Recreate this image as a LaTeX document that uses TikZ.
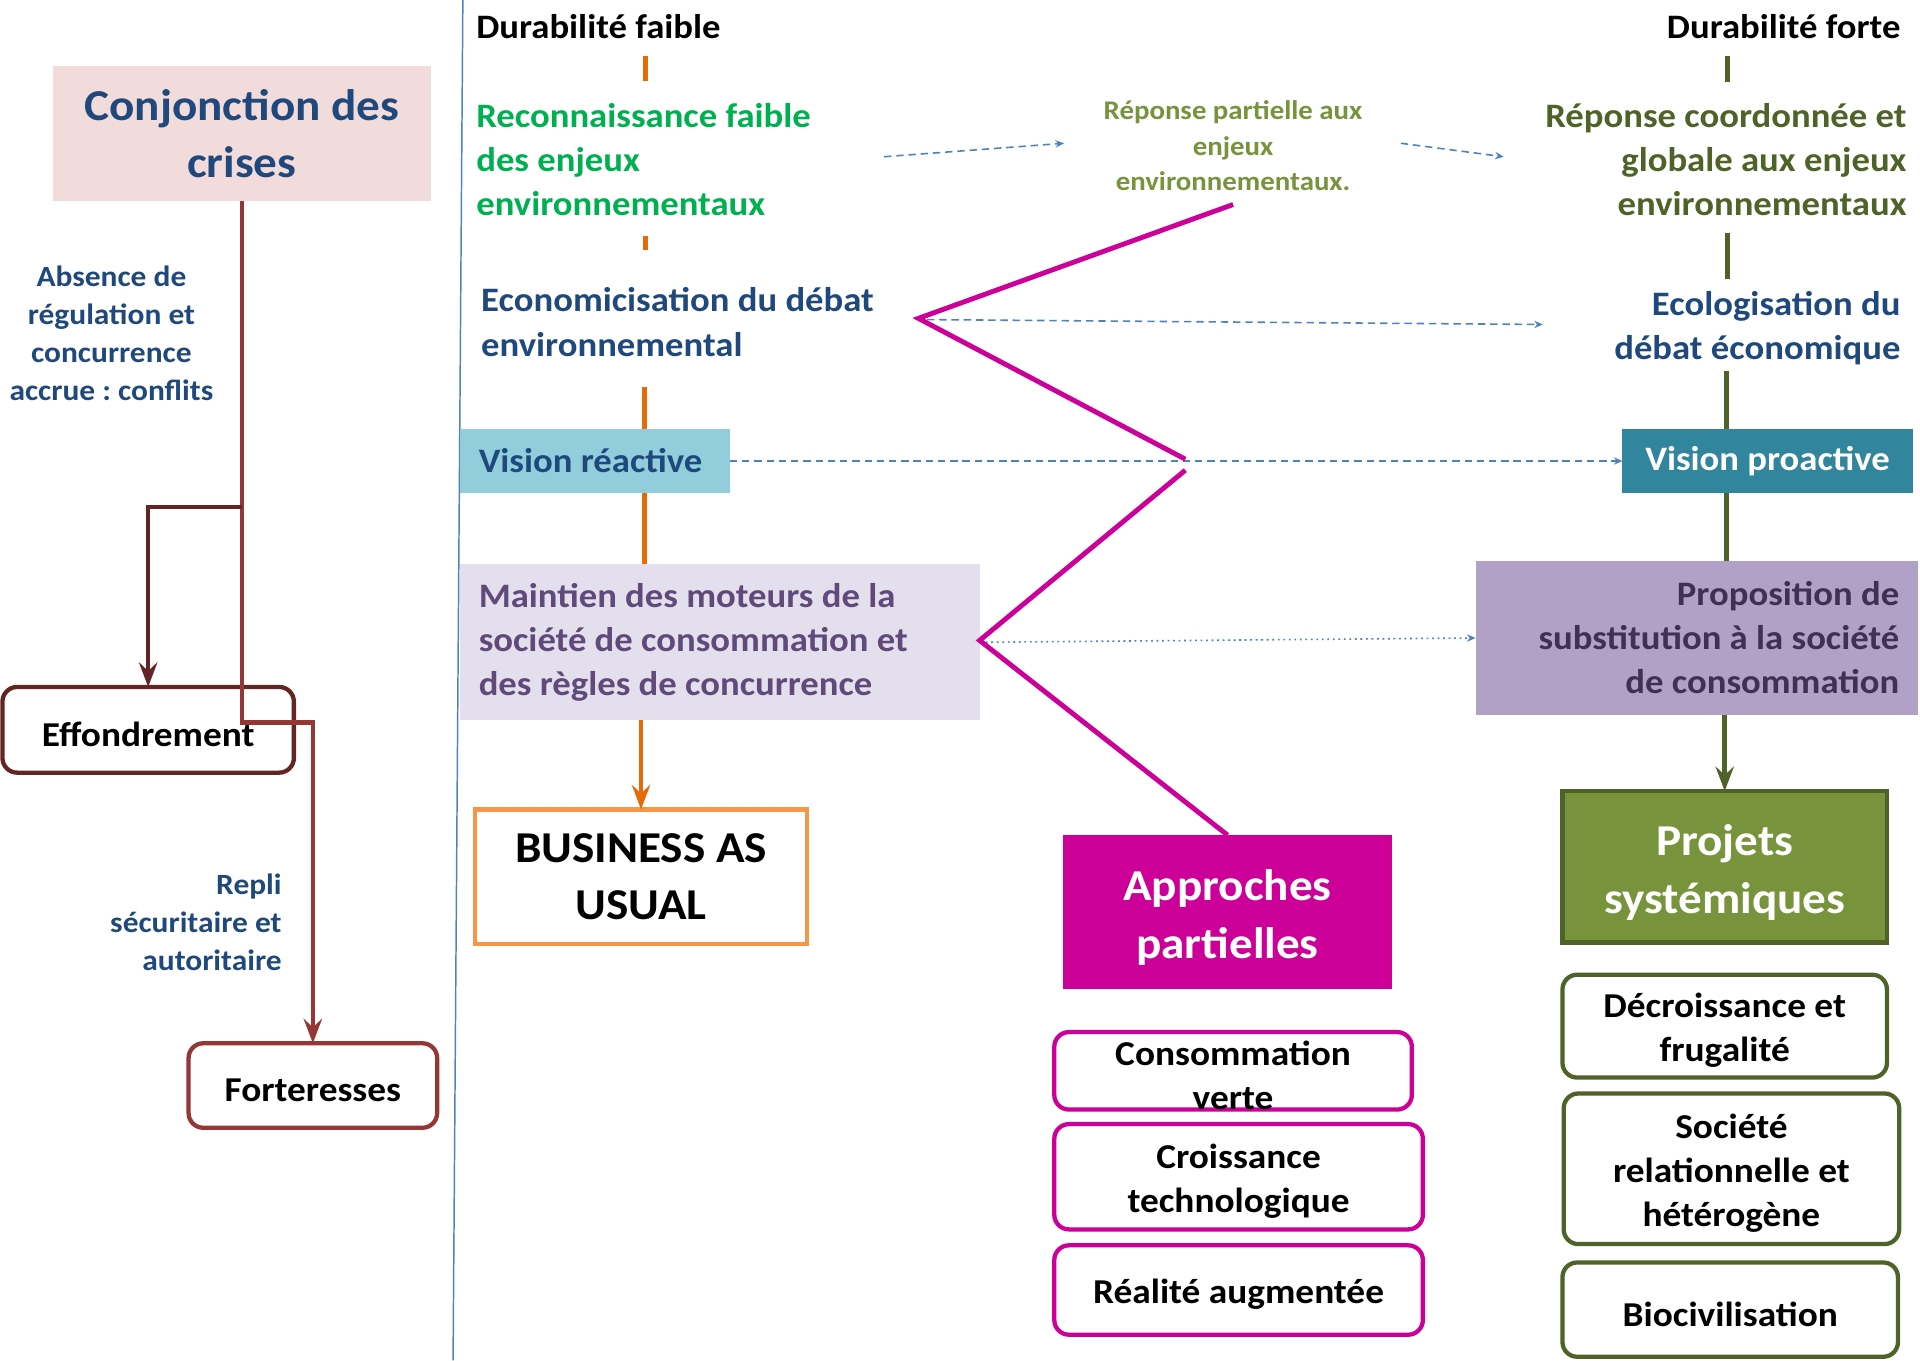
\documentclass[tikz,border=0pt]{standalone}
\usepackage{fontspec}
\setmainfont{Carlito}[FakeStretch=1.07]
\usetikzlibrary{arrows.meta}

\definecolor{darkblue}{HTML}{1F497D}
\definecolor{crisispink}{HTML}{F2DCDB}
\definecolor{crisisred}{HTML}{953735}
\definecolor{branchred}{HTML}{632523}
\definecolor{axisorange}{HTML}{E36C09}
\definecolor{bauorange}{HTML}{F79646}
\definecolor{recogreen}{HTML}{00B050}
\definecolor{olive}{HTML}{77933C}
\definecolor{darkolive}{HTML}{4F6228}
\definecolor{reactblue}{HTML}{92CDDC}
\definecolor{proteal}{HTML}{31859C}
\definecolor{lavender}{HTML}{E4DFEC}
\definecolor{maintext}{HTML}{604A7B}
\definecolor{lilac}{HTML}{B2A1C7}
\definecolor{proptext}{HTML}{3F3151}
\definecolor{partmagenta}{HTML}{CC0099}
\definecolor{linkblue}{HTML}{4F81BD}

\newcommand{\fsz}[2]{\fontsize{#1}{#2}\selectfont}

\begin{document}
\frenchspacing
\begin{tikzpicture}[x=1pt, y=-1pt,
    every node/.style={inner sep=0pt, outer sep=0pt},
    headtext/.style={font=\bfseries\fsz{28}{32}},
    midtext/.style={font=\bfseries\fsz{28}{36}},
    visiontext/.style={font=\bfseries\fsz{28}{34}},
    itemtext/.style={font=\bfseries\fsz{28.5}{36}},
    sidetext/.style={font=\bfseries\fsz{24}{31}, text=darkblue},
    bigtext/.style={font=\bfseries\fsz{36}{47}},
    lowered/.style={execute at begin node={\rule{0pt}{0.95em}}},
    itembox/.style={itemtext, lowered, draw, line width=3.5pt, rounded corners=12pt, fill=white, align=flush center},
    crisisline/.style={draw=crisisred, line width=3.5pt},
    branchline/.style={draw=branchred, line width=3.5pt},
    bigtip/.style={-{Stealth[length=20pt, width=15pt, inset=7pt]}},
    orangeaxis/.style={draw=axisorange, line width=4pt},
    greenaxis/.style={draw=darkolive, line width=4pt},
    link/.style={draw=linkblue, line width=1.3pt, dash pattern=on 6pt off 4pt, -{Stealth[length=7pt, width=6pt]}},
    dottedlink/.style={draw=linkblue, line width=1.3pt, dash pattern=on 1.5pt off 3pt, -{Stealth[length=7pt, width=6pt]}},
    zigzag/.style={draw=partmagenta, line width=4pt}
  ]
    \useasboundingbox (0,0) rectangle (1568,1111);

    \coordinate (septop) at (378,0);
    \coordinate (sepbot) at (370,1111);
    \draw[draw=linkblue, line width=1.2pt] (septop) -- (sepbot);

    \node[bigtext, fill=crisispink, text=darkblue, minimum width=309, minimum height=110,
      text width=290pt, align=flush center] (conj) at (197.5,109) {Conjonction des\\crises};
    \node[sidetext, text width=190pt, align=flush center] (absence) at (91,272)
      {Absence de\\régulation et\\concurrence\\accrue : conflits};
    \node[itembox, draw=branchred, minimum width=238, minimum height=70, text width=220pt]
      (effond) at (121,596) {Effondrement};
    \node[sidetext, anchor=east, text width=170pt, align=flush right] (repli) at (230,753)
      {Repli\\sécuritaire et\\autoritaire};
    \node[itembox, draw=crisisred, minimum width=203, minimum height=69, text width=190pt]
      (fort) at (255.5,886.5) {Forteresses};

    \node[headtext, anchor=west] (dfaible) at (389,22) {Durabilité faible};
    \node[headtext, anchor=east] (dforte) at (1552,22) {Durabilité forte};

    \node[midtext, text=recogreen, anchor=west, text width=320pt, align=flush left] (reco) at (389,130)
      {Reconnaissance faible\\des enjeux\\environnementaux};
    \node[midtext, text=darkblue, anchor=west, text width=340pt, align=flush left] (econ) at (393,263)
      {Economicisation du débat\\environnemental};
    \node[visiontext, fill=reactblue, text=darkblue, anchor=west, text width=190pt, inner xsep=15pt,
      minimum height=53, align=flush left] (reactive) at (376,376.5) {Vision réactive};
    \node[midtext, fill=lavender, text=maintext, anchor=west, text width=394pt, inner xsep=15pt,
      minimum height=127, align=flush left] (maintien) at (376,524.5)
      {Maintien des moteurs de la\\société de consommation et\\des règles de concurrence};
    \node[bigtext, draw=bauorange, line width=3.5pt, fill=white, minimum width=271, minimum height=110,
      text width=250pt, align=flush center] (business) at (523.5,716) {BUSINESS AS\\USUAL};

    \node[font=\bfseries\fsz{22}{29}, text=olive, text width=250pt, align=flush center] (reponsepart) at (1007,119)
      {Réponse partielle aux\\enjeux\\environnementaux.};
    \node[bigtext, lowered, fill=partmagenta, text=white, minimum width=269, minimum height=126,
      text width=250pt, align=flush center] (approches) at (1002.5,745) {Approches\\partielles};
    \node[itembox, draw=partmagenta, minimum width=292, minimum height=63, text width=280pt]
      (conso) at (1007,874.5) {Consommation\\verte};
    \node[itembox, draw=partmagenta, minimum width=301, minimum height=86, text width=280pt]
      (croissance) at (1011.5,961) {Croissance\\technologique};
    \node[itembox, draw=partmagenta, minimum width=301, minimum height=73, text width=280pt]
      (realite) at (1011.5,1053.5) {Réalité augmentée};

    \node[midtext, text=darkolive, anchor=east, text width=330pt, align=flush right] (reponsecoord) at (1557,130)
      {Réponse coordonnée et\\globale aux enjeux\\environnementaux};
    \node[midtext, text=darkblue, anchor=east, text width=260pt, align=flush right] (ecolo) at (1552,268)
      {Ecologisation du\\débat économique};
    \node[visiontext, fill=proteal, text=white, minimum width=237, minimum height=53]
      (proactive) at (1443.5,376.5) {Vision proactive};
    \node[midtext, fill=lilac, text=proptext, anchor=east, text width=331pt, inner xsep=15pt,
      minimum height=126, align=flush right] (proposition) at (1566,521)
      {Proposition de\\substitution à la société\\de consommation};
    \node[bigtext, lowered, fill=olive, draw=darkolive, line width=4pt, text=white, minimum width=265,
      minimum height=124, text width=250pt, align=flush center] (projets) at (1408.5,708) {Projets\\systémiques};
    \node[itembox, draw=darkolive, minimum width=265, minimum height=84, text width=250pt]
      (decroissance) at (1408.5,838) {Décroissance et\\frugalité};
    \node[itembox, draw=darkolive, minimum width=274, minimum height=123, text width=260pt]
      (societe) at (1414,954.5) {Société\\relationnelle et\\hétérogène};
    \node[itembox, draw=darkolive, minimum width=274, minimum height=77, text width=260pt]
      (biociv) at (1413,1069.5) {Biocivilisation};

    \coordinate (fork) at (197.5,414);
    \coordinate (bend) at (197.5,590);
    \draw[crisisline, bigtip] (conj.south) -- (bend) -| (fort.north);
    \draw[branchline, bigtip] (fork) -| (effond.north);

    \coordinate (fa1) at (527,46);
    \coordinate (fa2) at (527,66);
    \coordinate (fa3) at (527,193);
    \coordinate (fa4) at (527,204);
    \coordinate (fa5) at (526,316);
    \draw[orangeaxis] (fa1) -- (fa2);
    \draw[orangeaxis] (fa3) -- (fa4);
    \draw[orangeaxis] (fa5) -- (fa5 |- reactive.north);
    \draw[orangeaxis] (fa5 |- reactive.south) -- (fa5 |- maintien.north);
    \draw[orangeaxis, bigtip] (business.north |- maintien.south) -- (business.north);

    \coordinate (ga1) at (1411,46);
    \coordinate (ga2) at (1411,67);
    \coordinate (ga3) at (1411,190);
    \coordinate (ga4) at (1411,228);
    \coordinate (ga5) at (1410,303);
    \draw[greenaxis] (ga1) -- (ga2);
    \draw[greenaxis] (ga3) -- (ga4);
    \draw[greenaxis] (ga5) -- (ga5 |- proactive.north);
    \draw[greenaxis] (ga5 |- proactive.south) -- (ga5 |- proposition.north);
    \draw[greenaxis, bigtip] (projets.north |- proposition.south) -- (projets.north);

    \coordinate (l1s) at (722,128);
    \coordinate (l1e) at (869,117);
    \coordinate (l2s) at (1144,117);
    \coordinate (l2e) at (1228,128);
    \coordinate (l3s) at (757,261);
    \coordinate (l3e) at (1260,265);
    \draw[link] (l1s) -- (l1e);
    \draw[link] (l2s) -- (l2e);
    \draw[link] (l3s) -- (l3e);
    \draw[link] (reactive.east) -- (proactive.west);
    \draw[dottedlink] ([xshift=5pt]maintien.east) -- (proposition.west);

    \coordinate (zig1) at (1007,167);
    \coordinate (zig2) at (750,260);
    \coordinate (zig3) at (968,375);
    \coordinate (zig4) at (968,384);
    \coordinate (zig5) at (800,523);
    \draw[zigzag] (zig1) -- (zig2) -- (zig3);
    \draw[zigzag] (zig4) -- (zig5) -- (approches.north);
  \end{tikzpicture}
\end{document}
